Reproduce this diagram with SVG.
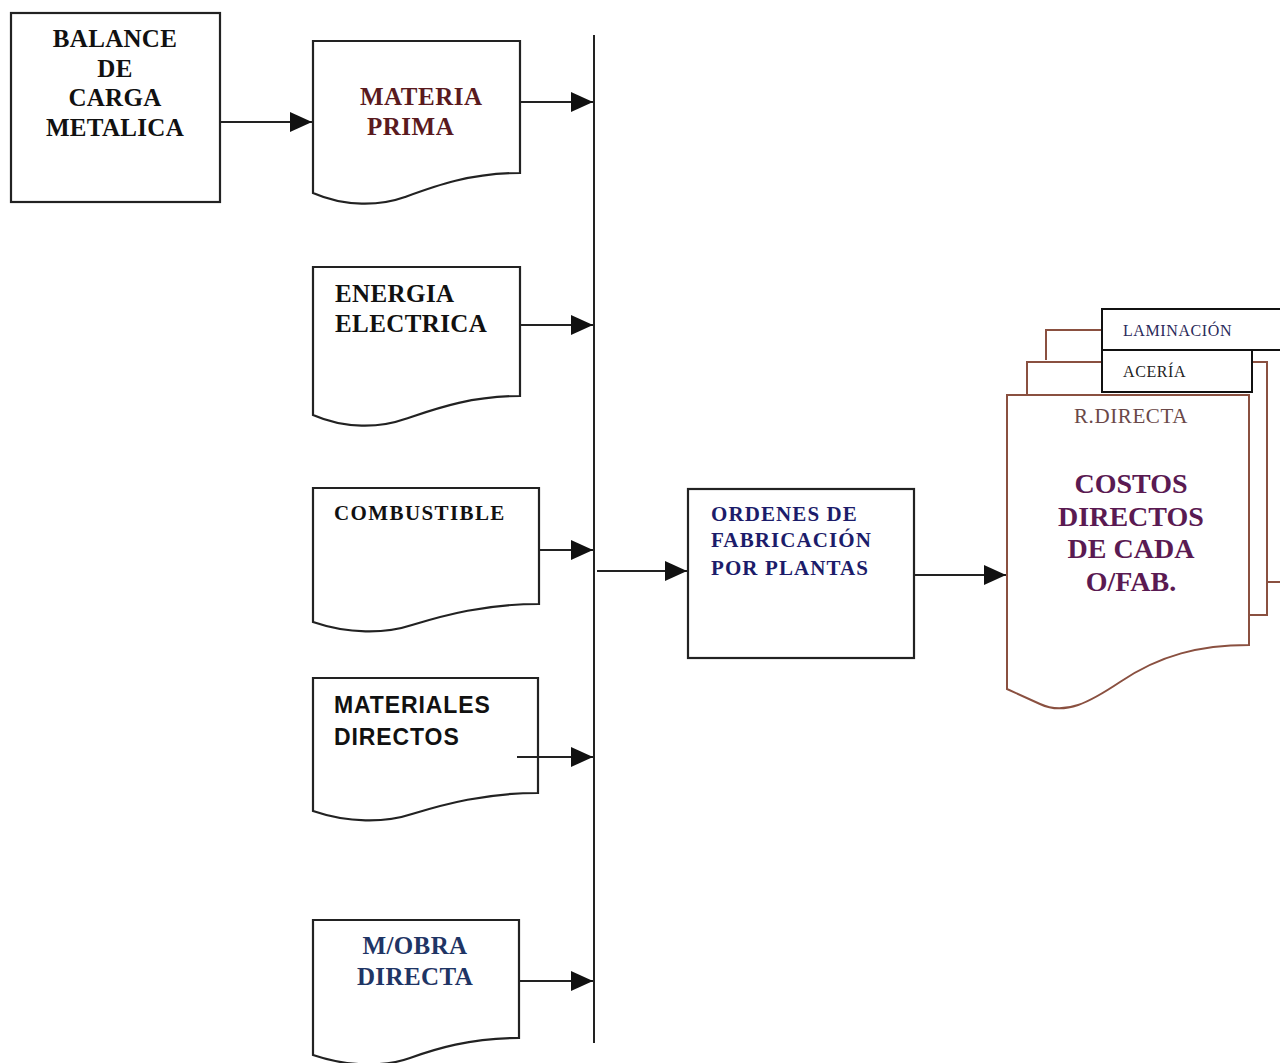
<svg xmlns="http://www.w3.org/2000/svg" width="1280" height="1063" viewBox="0 0 1280 1063">
  <style>
    .box { fill: #fff; stroke: #222; stroke-width: 2.2; }
    .doc { fill: #fff; stroke: #222; stroke-width: 2.2; }
    .bdoc { fill: #fff; stroke: #8a5040; stroke-width: 2; }
    .tab { fill: #fff; stroke: #111; stroke-width: 2; }
    .line { fill: none; stroke: #222; stroke-width: 2; }
    .serif { font-family: "Liberation Serif", "Times New Roman", serif; font-weight: bold; }
    .sans { font-family: "Liberation Sans", Arial, sans-serif; font-weight: bold; }
  </style>
  <defs>
    <marker id="arrow" viewBox="0 0 22 22" refX="22" refY="11" markerWidth="22" markerHeight="22" orient="auto" markerUnits="userSpaceOnUse">
      <path d="M0,1 L22,11 L0,21 Z" fill="#111"/>
    </marker>
  </defs>

  <rect width="1280" height="1063" fill="#fff"/>

  <!-- source block -->
  <g id="balance">
    <rect class="box" x="11" y="13" width="209" height="189"/>
    <g class="serif" font-size="25" fill="#111" text-anchor="middle" letter-spacing="0.3">
      <text x="115" y="47">BALANCE</text>
      <text x="115" y="77">DE</text>
      <text x="115" y="106">CARGA</text>
      <text x="115" y="136">METALICA</text>
    </g>
  </g>

  <!-- input documents -->
  <g id="materia-prima">
    <path class="doc" d="M313,41 H520 V173 C470,173 435,186 405,197 C380,206 345,207 313,193 Z"/>
    <g class="serif" font-size="25" fill="#5a1a1e" letter-spacing="0.5">
      <text x="360" y="105">MATERIA</text>
      <text x="367" y="135">PRIMA</text>
    </g>
  </g>

  <g id="energia-electrica">
    <path class="doc" d="M313,267 H520 V396 C470,396 435,409 405,419 C380,428 345,429 313,415 Z"/>
    <g class="serif" font-size="25" fill="#111" letter-spacing="0.4">
      <text x="335" y="302">ENERGIA</text>
      <text x="335" y="332">ELECTRICA</text>
    </g>
  </g>

  <g id="combustible">
    <path class="doc" d="M313,488 H539 V604 C485,604 445,615 412,625 C385,634 348,634 313,622 Z"/>
    <text class="serif" x="334" y="520" font-size="21" fill="#111" letter-spacing="1.4">COMBUSTIBLE</text>
  </g>

  <g id="materiales-directos">
    <path class="doc" d="M313,678 H538 V793 C485,793 445,804 412,814 C385,823 348,823 313,811 Z"/>
    <g class="sans" font-size="23" fill="#111" letter-spacing="0.9">
      <text x="334" y="713">MATERIALES</text>
      <text x="334" y="745">DIRECTOS</text>
    </g>
  </g>

  <g id="mano-obra-directa">
    <path class="doc" d="M313,920 H519 V1038 C470,1038 435,1049 410,1058 C385,1067 348,1067 313,1055 Z"/>
    <g class="serif" font-size="25" fill="#1f3565" text-anchor="middle" letter-spacing="0.4">
      <text x="415" y="954">M/OBRA</text>
      <text x="415" y="985">DIRECTA</text>
    </g>
  </g>

  <!-- production orders -->
  <g id="ordenes">
    <rect class="box" x="688" y="489" width="226" height="169"/>
    <g class="serif" font-size="21" fill="#1c1c6a" letter-spacing="1.1">
      <text x="711" y="521">ORDENES DE</text>
      <text x="711" y="547">FABRICACIÓN</text>
      <text x="711" y="575">POR PLANTAS</text>
    </g>
  </g>

  <!-- stacked cost reports per plant -->
  <g id="costos-directos">
    <!-- rear sheet (laminación) -->
    <path class="bdoc" d="M1046,360 V330 H1102 M1267,582 H1282"/>
    <rect class="tab" x="1102" y="309" width="185" height="41"/>
    <text x="1123" y="336" font-family="Liberation Serif, serif" font-size="16" fill="#2a2a5a" letter-spacing="0.6">LAMINACIÓN</text>
    <!-- middle sheet (acería) -->
    <path class="bdoc" d="M1027,395 V362 H1102 M1252,362 H1267 V615 H1250"/>
    <rect class="tab" x="1102" y="350" width="150" height="42"/>
    <text x="1123" y="377" font-family="Liberation Serif, serif" font-size="16" fill="#222" letter-spacing="0.6">ACERÍA</text>
    <!-- front sheet (reducción directa) -->
    <path class="bdoc" d="M1007,395 H1249 V645 C1200,645 1160,655 1120,682 C1090,702 1065,716 1040,704 L1007,689 Z"/>
    <text x="1131" y="423" font-family="Liberation Serif, serif" font-size="21" fill="#6a4848" text-anchor="middle" letter-spacing="0.6">R.DIRECTA</text>
    <g class="serif" font-size="28" fill="#5a1a52" text-anchor="middle">
      <text x="1131" y="493">COSTOS</text>
      <text x="1131" y="526">DIRECTOS</text>
      <text x="1131" y="558">DE CADA</text>
      <text x="1131" y="591">O/FAB.</text>
    </g>
  </g>

  <!-- connectors -->
  <g id="connectors" class="line">
    <line x1="594" y1="35" x2="594" y2="1043"/>
    <line x1="220" y1="122" x2="312" y2="122" marker-end="url(#arrow)"/>
    <line x1="520" y1="102" x2="593" y2="102" marker-end="url(#arrow)"/>
    <line x1="520" y1="325" x2="593" y2="325" marker-end="url(#arrow)"/>
    <line x1="539" y1="550" x2="593" y2="550" marker-end="url(#arrow)"/>
    <line x1="517" y1="757" x2="593" y2="757" marker-end="url(#arrow)"/>
    <line x1="519" y1="981" x2="593" y2="981" marker-end="url(#arrow)"/>
    <line x1="597" y1="571" x2="687" y2="571" marker-end="url(#arrow)"/>
    <line x1="915" y1="575" x2="1006" y2="575" marker-end="url(#arrow)"/>
  </g>
</svg>
